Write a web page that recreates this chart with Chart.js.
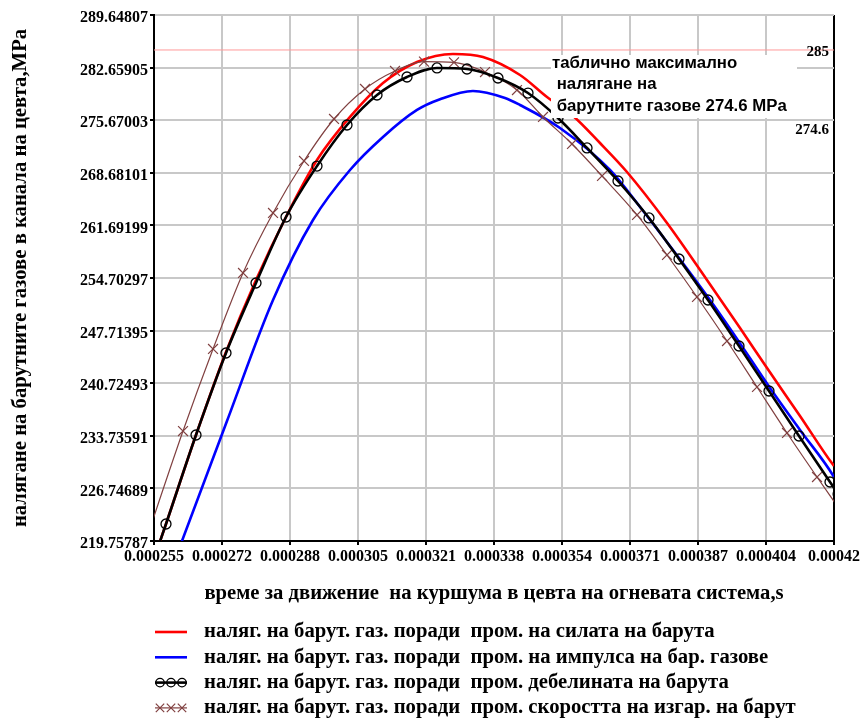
<!DOCTYPE html>
<html>
<head>
<meta charset="utf-8">
<script src="https://cdn.jsdelivr.net/npm/chart.js@4.4.1/dist/chart.umd.min.js"></script>
<style>
  html, body { margin: 0; padding: 0; background: #fff; }
</style>
</head>
<body>
<canvas id="chart" width="864" height="720"></canvas>
<script>
// axis ticks
const xTicks = [0.000255, 0.0002715, 0.000288, 0.0003045, 0.000321, 0.0003375, 0.000354, 0.0003705, 0.000387, 0.0004035, 0.00042];
const xTickLabels = ['0.000255', '0.000272', '0.000288', '0.000305', '0.000321', '0.000338', '0.000354', '0.000371', '0.000387', '0.000404', '0.00042'];
const yTicks = [219.75787, 226.74689, 233.73591, 240.72493, 247.71395, 254.70297, 261.69199, 268.68101, 275.67003, 282.65905, 289.64807];
const yTickLabels = ['219.75787', '226.74689', '233.73591', '240.72493', '247.71395', '254.70297', '261.69199', '268.68101', '275.67003', '282.65905', '289.64807'];

const xTitle = 'време за движение  на куршума в цевта на огневата система,s';
const yTitle = 'налягане на барутните газове в канала на цевта,MPa';

const seriesNames = [
  'наляг. на барут. газ. поради  пром. на силата на барута',
  'наляг. на барут. газ. поради  пром. на импулса на бар. газове',
  'наляг. на барут. газ. поради  пром. дебелината на барута',
  'наляг. на барут. газ. поради  пром. скоростта на изгар. на барут'
];

// red: force of powder
const redX = [0.000252, 0.00025791, 0.00026519, 0.00027247, 0.00027975, 0.00028727, 0.00029455, 0.00030256, 0.00031057, 0.00031882, 0.00032755, 0.00033483, 0.00034381, 0.00035036, 0.00035643, 0.00036322, 0.00036977, 0.00037948, 0.00038918, 0.0003972, 0.00040375, 0.00041175, 0.00042, 0.000421];
const redY = [212.6, 222.02, 233.84, 244.87, 254.44, 263.07, 270.38, 276.10, 280.61, 283.40, 284.47, 284.07, 281.68, 278.75, 276.36, 272.64, 268.79, 262.01, 254.44, 248.06, 242.74, 236.37, 229.72, 229.1];

// blue: impulse of gases
const blueX = [0.000258, 0.00026179, 0.00027271, 0.00028388, 0.00029358, 0.00030256, 0.00031057, 0.00031882, 0.0003244, 0.0003324, 0.00034017, 0.00034381, 0.00035351, 0.00036565, 0.00037293, 0.00038093, 0.00038991, 0.00039549, 0.00040447, 0.00041175, 0.00042, 0.000421];
const blueY = [214.3, 219.76, 235.7, 251.78, 262.41, 269.05, 273.44, 277.03, 278.45, 279.55, 278.62, 277.69, 274.63, 269.05, 264.14, 258.42, 251.78, 247.40, 240.09, 234.51, 228.26, 227.2];

// black: thickness of powder (circles)
const blackX = [0.000252, 0.00025791, 0.00026519, 0.00027247, 0.00027975, 0.00028703, 0.00029455, 0.00030183, 0.00030911, 0.00031639, 0.00032367, 0.00033095, 0.00033847, 0.00034575, 0.00035303, 0.00036007, 0.00036759, 0.00037511, 0.00038239, 0.00038943, 0.00039695, 0.00040423, 0.00041151, 0.00041903, 0.000421];
const blackY = [212.6, 222.02, 233.84, 244.74, 254.04, 262.81, 269.58, 275.03, 279.02, 281.41, 282.61, 282.47, 281.28, 279.28, 275.96, 271.98, 267.59, 262.68, 257.23, 251.78, 245.67, 239.69, 233.71, 227.60, 226.0];

// brown: burning rate (crosses)
const brownX = [0.00025, 0.00026204, 0.00026932, 0.0002766, 0.00028388, 0.0002914, 0.00029868, 0.0003062, 0.00031348, 0.00032051, 0.00032779, 0.00033532, 0.00034308, 0.00034939, 0.00035643, 0.00036371, 0.0003722, 0.00037948, 0.00038676, 0.00039404, 0.00040132, 0.0004086, 0.00041588, 0.00042315];
const brownY = [214.84, 234.37, 245.27, 255.37, 263.34, 270.25, 275.83, 279.82, 282.21, 283.45, 283.35, 282.07, 279.68, 276.10, 272.51, 268.26, 263.08, 257.76, 252.18, 246.33, 240.22, 234.11, 228.26, 222.55];

// table max line
const refX = [0.000255, 0.00042];
const refY = [285, 285];
const refLabel = '285';
const tableLevel = 274.6;
const tableLabel = '274.6';
const noteLines = ['таблично максимално', ' налягане на', ' барутните газове 274.6 MPa'];

const serif = "'Liberation Serif', 'Times New Roman', serif";
const sans = "'Liberation Sans', Arial, sans-serif";

const pts = (xs, ys) => xs.map((x, i) => ({ x: x, y: ys[i] }));

const overlay = {
  id: 'overlay',
  afterDatasetsDraw(chart) {
    const { ctx, chartArea, scales } = chart;
    const y = scales.y;
    ctx.save();

    // side labels
    ctx.fillStyle = '#000';
    ctx.font = 'bold 15px ' + serif;
    ctx.textAlign = 'right';
    ctx.textBaseline = 'middle';
    ctx.fillText(refLabel, chartArea.right - 5, y.getPixelForValue(refY[0]) + 2);
    ctx.fillText(tableLabel, chartArea.right - 5, y.getPixelForValue(tableLevel) + 2);

    // note box
    ctx.fillStyle = '#fff';
    ctx.fillRect(551, 55, 246, 63);
    ctx.fillStyle = '#000';
    ctx.font = 'bold 16.8px ' + sans;
    ctx.textAlign = 'left';
    noteLines.forEach((t, i) => ctx.fillText(t, 552, 63 + i * 21.5));

    // legend
    [0, 1, 2, 3].forEach(i => {
      const ds = chart.data.datasets[i];
      const ly = 632 + i * 25.3;
      ctx.strokeStyle = ds.borderColor;
      ctx.lineWidth = ds.borderWidth;
      ctx.beginPath();
      ctx.moveTo(155, ly);
      ctx.lineTo(187, ly);
      ctx.stroke();
      if (ds.pointRadius > 0) {
        ctx.fillStyle = 'rgba(0,0,0,0)';
        ctx.lineWidth = ds.pointBorderWidth;
        [160, 171, 182].forEach(px => {
          Chart.helpers.drawPoint(ctx, { pointStyle: ds.pointStyle, radius: ds.pointRadius * 0.85, borderWidth: ds.pointBorderWidth, rotation: 0 }, px, ly);
        });
      }
      ctx.fillStyle = '#000';
      ctx.font = 'bold 20.7px ' + serif;
      ctx.textAlign = 'left';
      ctx.textBaseline = 'middle';
      ctx.fillText(seriesNames[i], 204, ly);
    });
    ctx.restore();
  }
};

const gridColor = '#c8c8c8';
const tickFont = { family: serif, size: 16, weight: 'bold' };
const titleFont = { family: serif, size: 20.7, weight: 'bold' };

new Chart(document.getElementById('chart'), {
  type: 'line',
  data: {
    datasets: [
      { label: seriesNames[0], data: pts(redX, redY), borderColor: '#ff0000', borderWidth: 2.6, pointRadius: 0, cubicInterpolationMode: 'monotone', order: 3 },
      { label: seriesNames[1], data: pts(blueX, blueY), borderColor: '#0000ff', borderWidth: 2.6, pointRadius: 0, cubicInterpolationMode: 'monotone', order: 2 },
      { label: seriesNames[2], data: pts(blackX, blackY), borderColor: '#000000', borderWidth: 2.6, pointRadius: 5, pointStyle: 'circle', pointBorderWidth: 1.3, pointBorderColor: '#000', pointBackgroundColor: 'rgba(0,0,0,0)', cubicInterpolationMode: 'monotone', order: 0 },
      { label: seriesNames[3], data: pts(brownX, brownY), borderColor: '#804040', borderWidth: 1.2, pointRadius: 7, pointStyle: 'crossRot', pointBorderWidth: 1.2, pointBorderColor: '#804040', cubicInterpolationMode: 'monotone', order: 1 },
      { label: 'ref', data: pts(refX, refY), borderColor: '#ff9a9a', borderWidth: 1, pointRadius: 0, order: 4 }
    ]
  },
  options: {
    responsive: false,
    animation: false,
    devicePixelRatio: 1,
    layout: { padding: { left: 0, right: 30, top: 15, bottom: 109 } },
    plugins: { legend: { display: false }, tooltip: { enabled: false } },
    scales: {
      x: {
        type: 'linear',
        min: xTicks[0],
        max: xTicks[xTicks.length - 1],
        afterBuildTicks: s => { s.ticks = xTicks.map(v => ({ value: v })); },
        afterFit: s => { s.height = 70; },
        ticks: { autoSkip: false, maxRotation: 0, padding: 2, color: '#000', font: tickFont, callback: (v, i) => xTickLabels[i] },
        grid: { color: c => (c.index === xTicks.length - 1 ? '#000' : gridColor), lineWidth: 2, tickLength: 4, tickColor: '#000' },
        border: { color: '#000', width: 2 },
        title: { display: true, text: xTitle, color: '#000', font: titleFont, padding: { top: 0, bottom: 5 } }
      },
      y: {
        type: 'linear',
        min: yTicks[0],
        max: yTicks[yTicks.length - 1],
        afterBuildTicks: s => { s.ticks = yTicks.map(v => ({ value: v })); },
        afterFit: s => { s.width = 154; },
        ticks: { padding: 2, labelOffset: 3, color: '#000', font: tickFont, callback: (v, i) => yTickLabels[i] },
        grid: { color: gridColor, lineWidth: 2, tickLength: 4, tickColor: '#000' },
        border: { color: '#000', width: 2 },
        title: { display: true, text: yTitle, color: '#000', font: titleFont, padding: { top: 8, bottom: 0 } }
      }
    }
  },
  plugins: [overlay]
});
</script>
</body>
</html>
